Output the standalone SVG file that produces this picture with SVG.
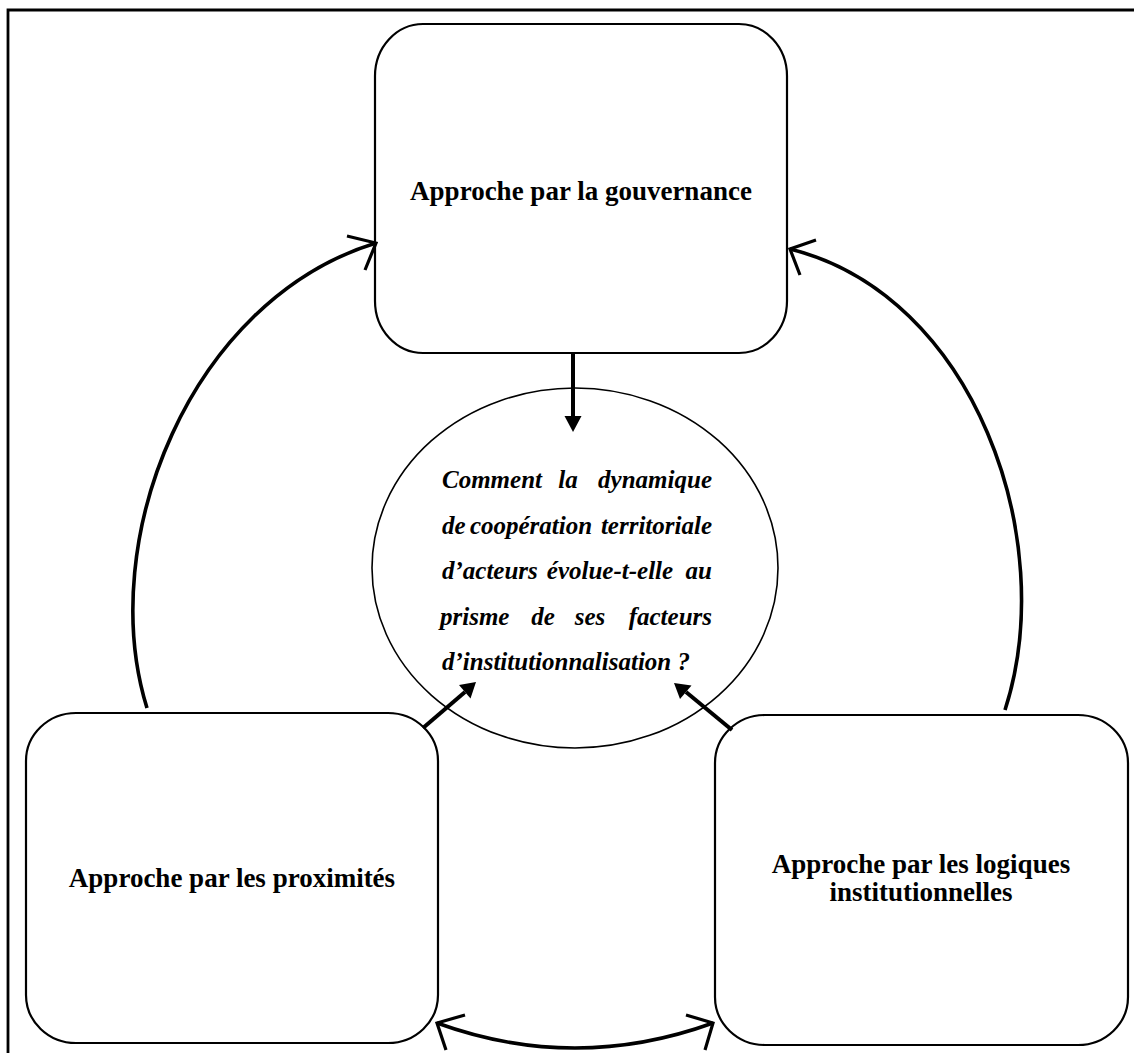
<svg xmlns="http://www.w3.org/2000/svg" width="1134" height="1053" viewBox="0 0 1134 1053">
  <style>
    .box { fill: #fff; stroke: #000; stroke-width: 2.2; }
    .lbl { font-family: "Liberation Serif", "Times New Roman", serif; font-weight: bold; font-size: 27px; fill: #000; text-anchor: middle; }
    .q { font-family: "Liberation Serif", "Times New Roman", serif; font-weight: bold; font-style: italic; font-size: 25px; fill: #000; }
    .arc { fill: none; stroke: #000; stroke-width: 3.6; }
    .head { fill: none; stroke: #000; stroke-width: 3.2; stroke-linecap: butt; }
    .sa { stroke: #000; stroke-width: 4; fill: none; }
    .fh { fill: #000; stroke: none; }
  </style>
  <rect width="1134" height="1053" fill="#fff"/>
  <path d="M8,1053 V10 H1134" fill="none" stroke="#000" stroke-width="2.8"/>

  <g id="node-gouvernance">
    <rect class="box" x="375" y="24" width="412" height="329" rx="48" ry="52"/>
    <text class="lbl" x="581" y="200">Approche par la gouvernance</text>
  </g>
  <g id="node-question">
    <ellipse cx="575" cy="568" rx="203" ry="180" fill="#fff" stroke="#000" stroke-width="1.6"/>
    <text class="q" x="442" y="488">Comment</text>
    <text class="q" x="568" y="488" text-anchor="middle">la</text>
    <text class="q" x="712" y="488" text-anchor="end">dynamique</text>
    <text class="q" x="442" y="533.5">de</text>
    <text class="q" x="531" y="533.5" text-anchor="middle">coopération</text>
    <text class="q" x="712" y="533.5" text-anchor="end">territoriale</text>
    <text class="q" x="442" y="579">d’acteurs</text>
    <text class="q" x="610" y="579" text-anchor="middle">évolue-t-elle</text>
    <text class="q" x="712" y="579" text-anchor="end">au</text>
    <text class="q" x="440" y="624.5">prisme</text>
    <text class="q" x="543" y="624.5" text-anchor="middle">de</text>
    <text class="q" x="590" y="624.5" text-anchor="middle">ses</text>
    <text class="q" x="712" y="624.5" text-anchor="end">facteurs</text>
    <text class="q" x="442" y="670">d’institutionnalisation ?</text>
  </g>
  <g id="node-proximites">
    <rect class="box" x="26" y="713" width="412" height="330" rx="50" ry="48"/>
    <text class="lbl" x="232" y="887">Approche par les proximités</text>
  </g>
  <g id="node-logiques">
    <rect class="box" x="715" y="715" width="413" height="330" rx="50" ry="48"/>
    <text class="lbl" x="921" y="873">Approche par les logiques</text>
    <text class="lbl" x="921" y="901">institutionnelles</text>
  </g>

  <g id="connectors">
    <line class="sa" x1="573" y1="353" x2="573" y2="418"/>
    <polygon class="fh" points="564.5,416 581.5,416 573,432"/>
    <line class="sa" x1="423" y1="728" x2="465" y2="692"/>
    <polygon class="fh" points="470.5,698.5 459,685 476,682"/>
    <line class="sa" x1="732" y1="730" x2="686" y2="692"/>
    <polygon class="fh" points="691.5,685.5 680,699 674,683"/>

    <path class="arc" d="M147,708 C95,540 190,300 376,243"/>
    <path class="head" d="M347,236 L376,243 L365,270"/>

    <path class="arc" d="M1005,710 C1060,540 975,295 790,249"/>
    <path class="head" d="M816,240 L790,249 L800,275"/>

    <path class="arc" d="M437,1023 Q575,1073 713,1023"/>
    <path class="head" d="M465,1015 L437,1023 L446,1050"/>
    <path class="head" d="M686,1015 L713,1023 L705,1050"/>
  </g>
</svg>
